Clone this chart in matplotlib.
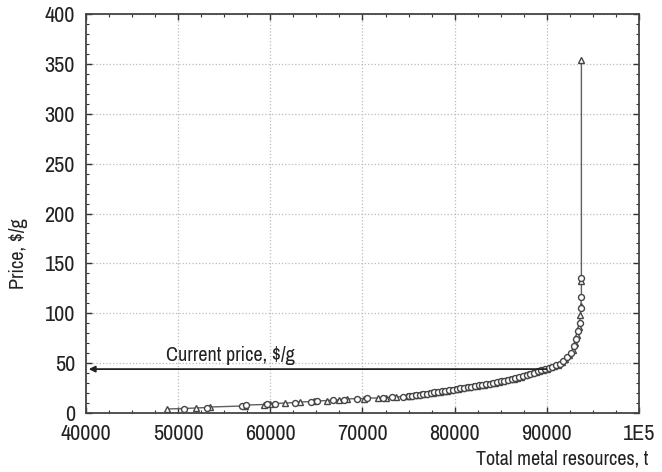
import matplotlib as mpl
import numpy as np
from matplotlib import pyplot as plt
from matplotlib import font_manager
from matplotlib.ticker import MultipleLocator, FixedLocator

# pick a condensed family if one is installed
names = sorted({f.name for f in font_manager.fontManager.ttflist})
narrow = [n for n in names if 'Condensed' in n or 'Narrow' in n]
plt.rcParams['font.family'] = narrow[:1] + ['DejaVu Sans']
if not narrow:
    plt.rcParams['font.stretch'] = 'condensed'

# data (total resources, t / price, $/g)
resources = [48800, 50600, 51900, 53100, 53400, 56900, 57200, 57400, 59300, 59600,
             60000, 60500, 61600, 62700, 63200, 64400, 64700, 65100, 66100, 66800,
             67400, 68000, 68300, 69400, 70200, 70500, 71700, 72200, 72500, 73200,
             73600, 74400, 74800,
             75000, 75200, 75400, 75600, 75800, 76000, 76200, 76400, 76600, 76800,
             77000, 77200, 77400, 77600, 77800, 78000, 78200, 78400, 78600, 78800,
             79000, 79200, 79400, 79600, 79800, 80000, 80200, 80400, 80600, 80800,
             81000, 81200, 81400, 81600, 81800, 82000, 82200, 82400, 82600, 82800,
             83000, 83200, 83400, 83600, 83800, 84000, 84200, 84400, 84600, 84800,
             85000, 85200, 85400, 85600, 85800, 86000, 86200, 86400, 86600, 86800,
             87000, 87200, 87400, 87600, 87800, 88000, 88200, 88400, 88600, 88800,
             89000, 89200, 89400, 89600, 89800, 90000, 90200, 90400, 90600, 90800,
             91000, 91200, 91400, 91600, 91800, 92000, 92200, 92400, 92600, 92800,
             93000, 93100, 93200, 93300, 93400, 93500, 93550, 93650, 93700, 93700,
             93750, 93750, 93750, 93750]
price = [4, 4.5, 5, 5.5, 6, 7, 7.5, 8, 8.5, 9,
         9.5, 9.5, 10, 10.5, 11, 11.5, 12, 12, 12.5, 13,
         13, 13.5, 14, 14.5, 14.5, 15, 15, 15.5, 15.5, 16,
         16, 16.5, 16.8,
         17, 17.2, 17.5, 17.8, 18, 18.3, 18.5, 18.8, 19, 19.3,
         19.5, 19.8, 20, 20.3, 20.6, 20.8, 21, 21.3, 21.6, 21.8,
         22, 22.3, 22.6, 22.9, 23.2, 23.6, 24, 24.4, 24.8, 25.2,
         25.5, 25.7, 26, 26.2, 26.5, 26.7, 27, 27.3, 27.6, 28,
         28.2, 28.5, 28.8, 29, 29.3, 29.7, 30, 30.4, 30.8, 31.2,
         31.6, 32, 32.4, 32.8, 33.2, 33.6, 34, 34.4, 34.8, 35.2,
         35.8, 36.4, 37, 37.6, 38.2, 38.8, 39.4, 40, 40.6, 41.2,
         41.7, 42.2, 42.8, 43.3, 43.8, 44.5, 45.2, 45.8, 46.4, 47,
         47.8, 48.6, 49.5, 51, 52.5, 54, 56, 58, 60.5, 63.5,
         67, 70, 74, 78, 82, 86, 90, 98, 105, 107,
         116, 132, 135, 354]
current_price = 44
x_ticks = [40000, 50000, 60000, 70000, 80000, 90000, 100000]
x_labels = ['40000', '50000', '60000', '70000', '80000', '90000', '1E5']

fig = plt.figure(figsize=(6.62, 4.72), dpi=100)
ax = fig.add_axes([86 / 662, 59 / 472, 553 / 662, 399 / 472])

# curve with alternating open markers
ax.plot(resources, price, color='#606060', linewidth=1.0, zorder=2)
ax.plot(resources[::2], price[::2], linestyle='none', marker='^', markersize=4.6,
        markerfacecolor='white', markeredgecolor='#454545', markeredgewidth=1.0, zorder=3)
ax.plot(resources[1::2], price[1::2], linestyle='none', marker='o', markersize=4.3,
        markerfacecolor='white', markeredgecolor='#454545', markeredgewidth=1.0, zorder=3)

# current price arrow
ax.annotate('', xy=(40300, current_price), xytext=(90000, current_price),
            arrowprops=dict(arrowstyle='-|>', color='#222222', lw=1.3,
                            mutation_scale=9, shrinkA=0, shrinkB=0), zorder=4)
ax.text(48700, current_price + 4, 'Current price, $/g', fontsize=14.5, color='#222222',
        ha='left', va='bottom')

ax.set_xlim(40000, 100000)
ax.set_ylim(0, 400)
ax.xaxis.set_major_locator(FixedLocator(x_ticks))
ax.set_xticklabels(x_labels)
ax.xaxis.set_minor_locator(MultipleLocator(2500))
ax.yaxis.set_major_locator(MultipleLocator(50))
ax.yaxis.set_minor_locator(MultipleLocator(10))

ax.tick_params(which='both', direction='in', top=True, right=True, color='#333333')
ax.tick_params(which='major', length=4, width=1.0, labelsize=16, labelcolor='#222222')
ax.tick_params(axis='x', which='major', pad=8)
ax.tick_params(axis='y', which='major', pad=8)
ax.tick_params(which='minor', length=2.5, width=0.8)
for s in ax.spines.values():
    s.set_color('#444444')
    s.set_linewidth(1.3)

ax.grid(True, which='major', linestyle=':', color='#bbbbbb', linewidth=0.9)
ax.set_axisbelow(True)

fig.text(18 / 662, 1 - 254 / 472, 'Price, $/g', fontsize=14.5, color='#222222',
         rotation=90, ha='center', va='center')
fig.text(648 / 662, 1 - 459 / 472, 'Total metal resources, t', fontsize=14.5,
         color='#222222', ha='right', va='center')

fig.savefig('out.png', dpi=100)
